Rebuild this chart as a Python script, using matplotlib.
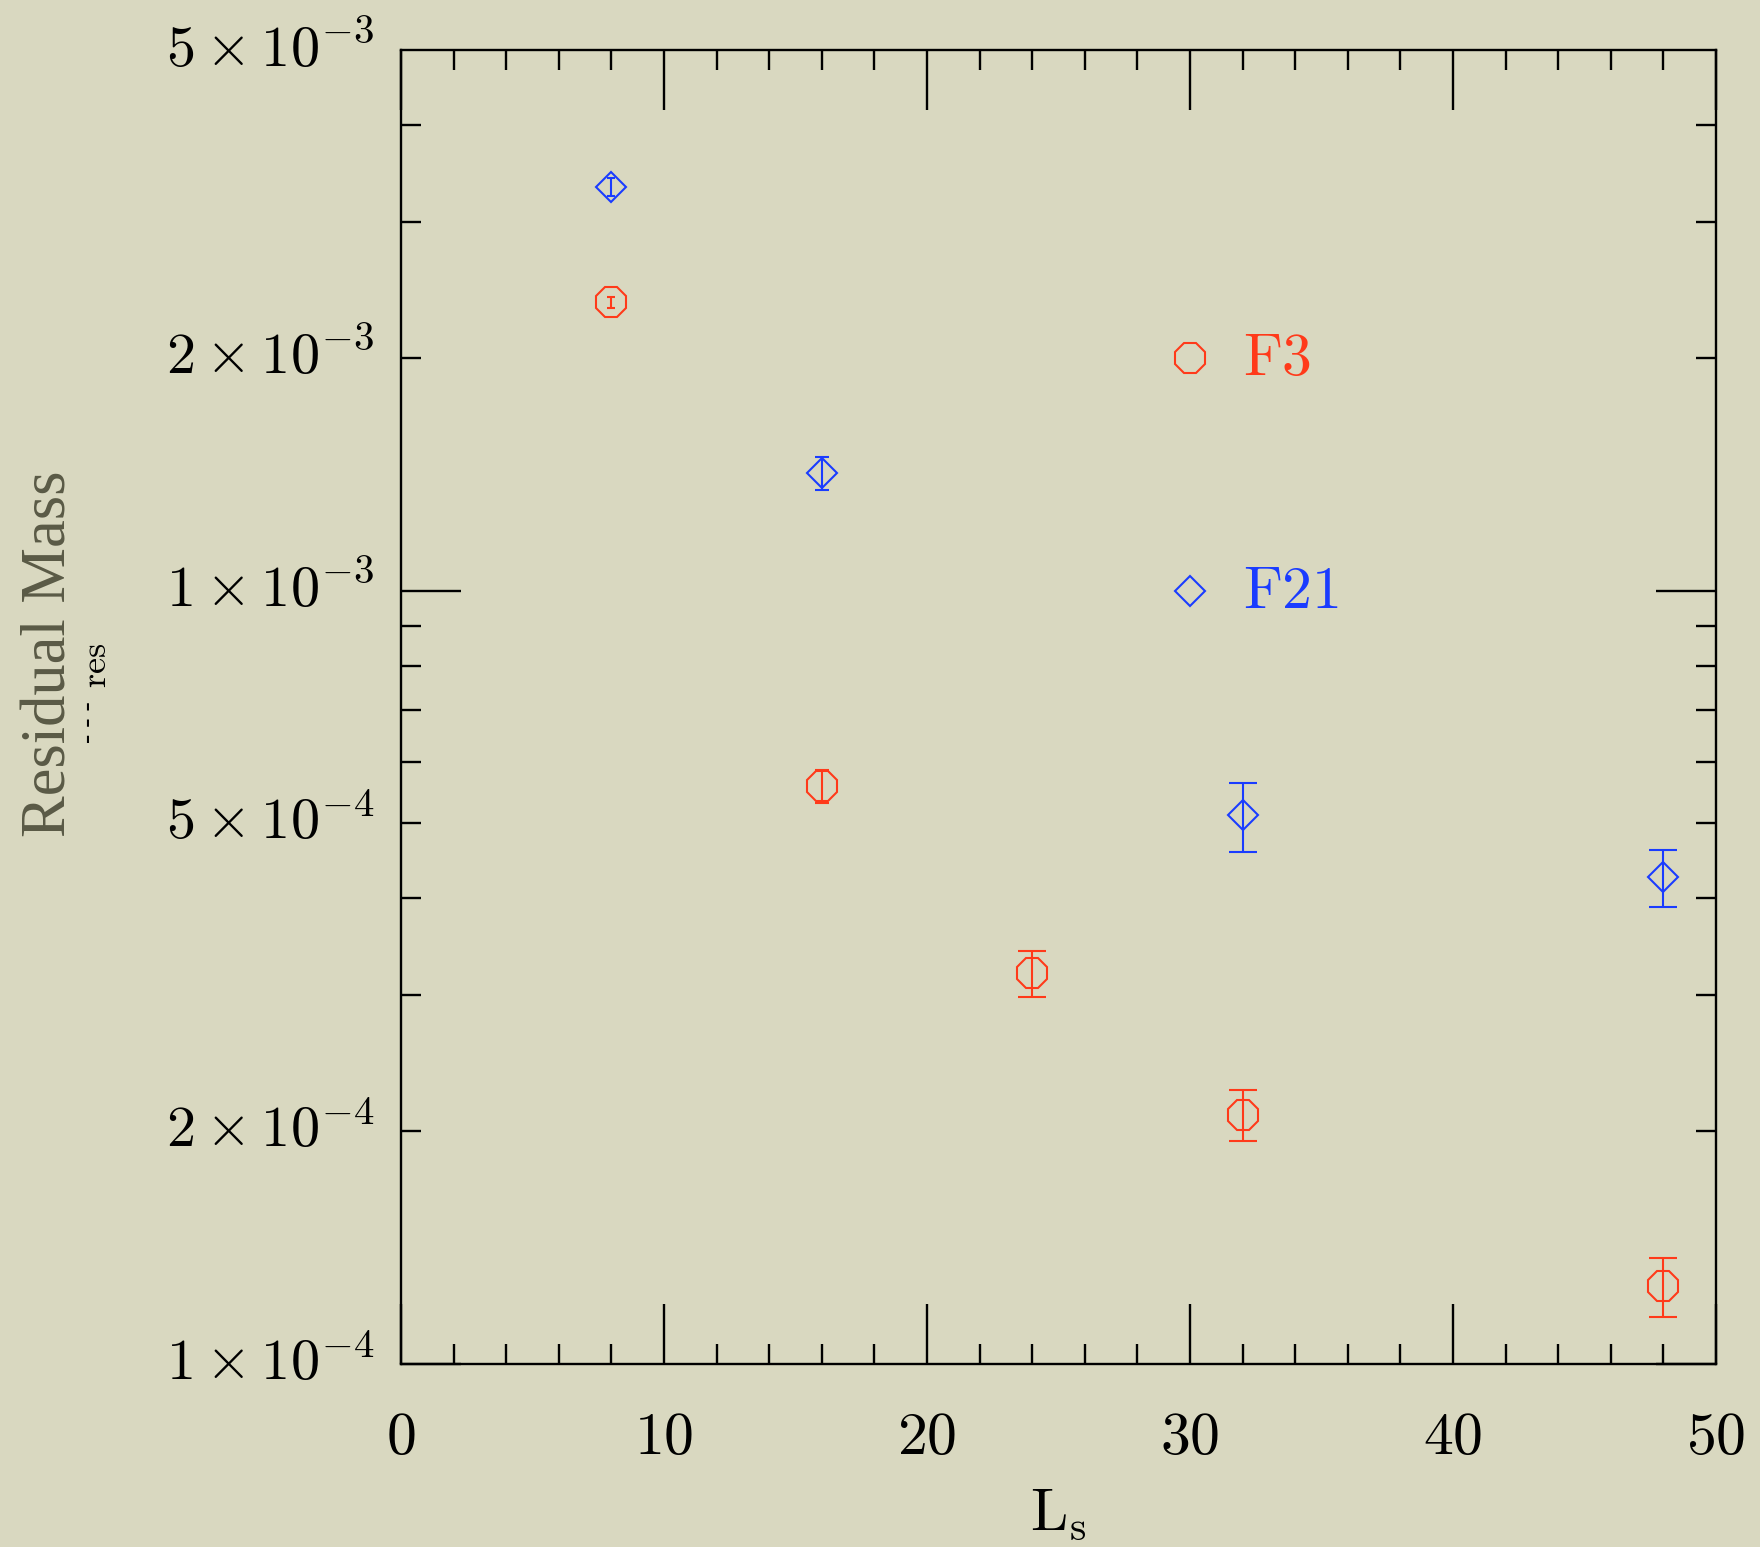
import numpy as np
import matplotlib
matplotlib.use("Agg")
import matplotlib.pyplot as plt
from matplotlib.ticker import FixedLocator, NullFormatter, MultipleLocator

plt.rcParams['mathtext.fontset'] = 'cm'
plt.rcParams['font.family'] = ['DejaVu Serif']

# data
ls_f3 = [8, 16, 24, 32, 48]
mres_f3 = [2.36e-3, 5.59e-4, 3.20e-4, 2.10e-4, 1.26e-4]
err_f3 = [0.04e-3, 0.28e-4, 0.22e-4, 0.158e-4, 0.111e-4]

ls_f21 = [8, 16, 32, 48]
mres_f21 = [3.33e-3, 1.42e-3, 5.12e-4, 4.26e-4]
err_f21 = [0.09e-3, 0.07e-3, 0.524e-4, 0.358e-4]

y_labels = {1e-4: r'$1\times10^{-4}$', 2e-4: r'$2\times10^{-4}$',
            5e-4: r'$5\times10^{-4}$', 1e-3: r'$1\times10^{-3}$',
            2e-3: r'$2\times10^{-3}$', 5e-3: r'$5\times10^{-3}$'}

red = '#ff3a1a'
blue = '#1a3cff'
bg = '#d9d8c0'

# caps shrink for the short error bars (as in the original plot)
caps = {8: 3, 16: 5}

fig = plt.figure(figsize=(17.6, 15.47), dpi=100, facecolor=bg)
ax = fig.add_axes([401/1760, 1 - 1364/1547, (1716-401)/1760, (1364-50)/1547])
ax.set_facecolor('none')

for x, y, e in zip(ls_f3, mres_f3, err_f3):
    ax.errorbar([x], [y], yerr=[e], fmt='8', ms=23, mfc='none', mec=red,
                mew=1.5, ecolor=red, elinewidth=1.5, capsize=caps.get(x, 10),
                capthick=1.5)
for x, y, e in zip(ls_f21, mres_f21, err_f21):
    ax.errorbar([x], [y], yerr=[e], fmt='D', ms=15.5, mfc='none', mec=blue,
                mew=1.5, ecolor=blue, elinewidth=1.5, capsize=caps.get(x, 10),
                capthick=1.5)

# legend placed in data coordinates like the original
ax.plot([30], [2e-3], '8', ms=23, mfc='none', mec=red, mew=1.5)
ax.plot([30], [1e-3], 'D', ms=15.5, mfc='none', mec=blue, mew=1.5)
ax.text(32, 2e-3, r'$\mathrm{F3}$', color=red, fontsize=43, ha='left', va='center')
ax.text(32, 1e-3, r'$\mathrm{F21}$', color=blue, fontsize=43, ha='left', va='center')

ax.set_yscale('log')
ax.set_xlim(0, 50)
ax.set_ylim(1e-4, 5e-3)

ax.xaxis.set_minor_locator(MultipleLocator(2))
ax.set_xticks(range(0, 51, 10))
ax.set_xticklabels([r'$%d$' % v for v in range(0, 51, 10)])

ax.yaxis.set_major_locator(FixedLocator([1e-4, 1e-3]))
minor = [k * 1e-4 for k in range(2, 10)] + [k * 1e-3 for k in range(2, 5)]
ax.yaxis.set_minor_locator(FixedLocator(minor))
ax.yaxis.set_major_formatter(NullFormatter())
ax.yaxis.set_minor_formatter(NullFormatter())
for v, s in y_labels.items():
    ax.text(-0.02, v, s, transform=ax.get_yaxis_transform(), ha='right',
            va='center', fontsize=42)

ax.tick_params(which='both', direction='in', top=True, right=True, width=1.7,
               color='black')
ax.tick_params(which='major', length=43, labelsize=43, pad=32)
ax.tick_params(which='minor', length=14.5)
for sp in ax.spines.values():
    sp.set_linewidth(1.7)

fig.text(50/1760, 1 - 654/1547, 'Residual Mass', rotation=90, ha='center',
         va='center', fontsize=45, color='#5a5a46', family='Liberation Serif')
fig.text(96/1760, 1 - 665/1547, r'$\mathrm{res}$', rotation=90, ha='center',
         va='center', fontsize=26, color='black')
fig.text(88/1760, 1 - 722/1547, '- - -', rotation=90, ha='center', va='center',
         fontsize=20, color='black', family='Liberation Serif')
fig.text(1030/1760, 1 - 1530/1547, r'$\mathrm{L}_{\mathrm{s}}$', ha='left',
         va='baseline', fontsize=43, color='black')

fig.savefig('out.png', dpi=100, facecolor=bg)
